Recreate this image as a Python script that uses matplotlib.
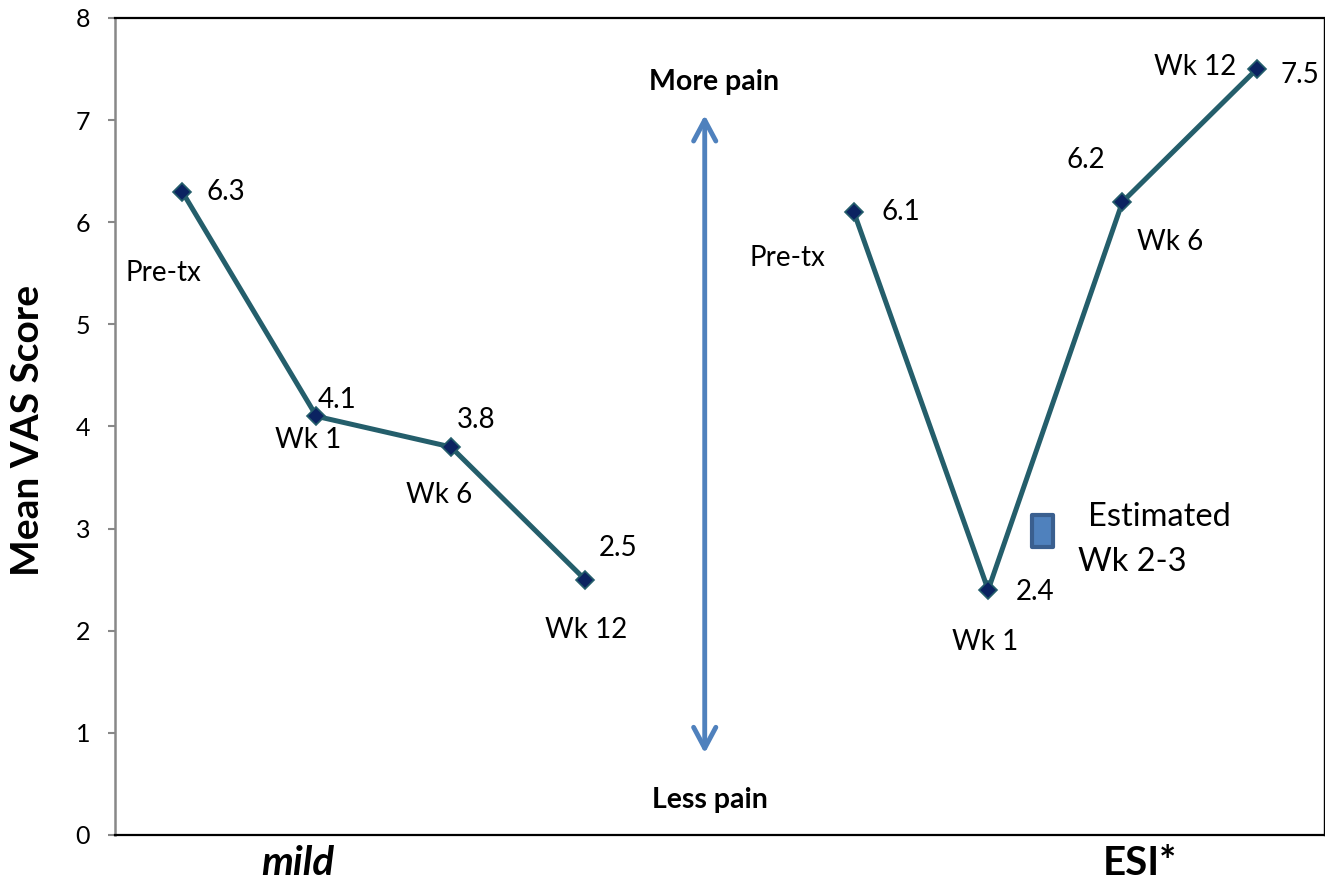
import numpy as np
import matplotlib
matplotlib.use("Agg")
import matplotlib.pyplot as plt
from matplotlib.patches import Rectangle

plt.rcParams['font.family'] = ['Lato', 'DejaVu Sans']

# data
time_labels = ['Pre-tx', 'Wk 1', 'Wk 6', 'Wk 12']
mild_x = [1, 2, 3, 4]
mild_vals = [6.3, 4.1, 3.8, 2.5]
esi_x = [6, 7, 8, 9]
esi_vals = [6.1, 2.4, 6.2, 7.5]
groups = ['mild', 'ESI*']

# label offsets in pixels (value label, time label)
mild_val_off = [(44, 0), (21, 16), (25, 27), (33, 32)]
mild_lab_off = [(-19, -81), (-8, -24), (-12, -48), (1, -50)]
esi_val_off = [(47, 0), (47, -2), (-37, 42), (43, -6)]
esi_lab_off = [(-66, -46), (-3, -52), (48, -40), (-62, 2)]

line_col = '#245E6B'
mark_col = '#0B2361'

fig = plt.figure(figsize=(13.25, 8.84), dpi=100)
ax = fig.add_axes([115/1325, 49/884, 1209/1325, 817/884])

for xs, vs, voff, loff in [(mild_x, mild_vals, mild_val_off, mild_lab_off),
                           (esi_x, esi_vals, esi_val_off, esi_lab_off)]:
    ax.plot(xs, vs, color=line_col, lw=3.6, marker='D', ms=9.5,
            mfc=mark_col, mec=line_col, mew=1.2, solid_capstyle='butt')
    for x, v, vo, lo, t in zip(xs, vs, voff, loff, time_labels):
        ax.annotate(f'{v:.1f}', (x, v), xytext=vo, textcoords='offset pixels',
                    ha='center', va='center', fontsize=20)
        ax.annotate(t, (x, v), xytext=lo, textcoords='offset pixels',
                    ha='center', va='center', fontsize=20)

# pain arrow
ax.annotate('', xy=(4.89, 7.05), xytext=(4.89, 0.8),
            arrowprops=dict(arrowstyle='<->,head_length=0.75,head_width=0.4',
                            color='#4F81BD', lw=3.5, shrinkA=0, shrinkB=0,
                            mutation_scale=20))
ax.text(4.96, 7.37, 'More pain', ha='center', va='center',
        fontsize=20.5, fontweight='bold')
ax.text(4.93, 0.34, 'Less pain', ha='center', va='center',
        fontsize=20.5, fontweight='bold')

# estimated wk 2-3 marker
ax.add_patch(Rectangle((7.33, 2.82), 0.15, 0.31, facecolor='#4F81BD',
                       edgecolor='#3A5F8F', lw=3, joinstyle='round'))
ax.text(7.74, 3.11, 'Estimated', ha='left', va='center', fontsize=23.5)
ax.text(7.67, 2.67, 'Wk 2-3', ha='left', va='center', fontsize=23.5)

ax.set_xlim(0.5, 9.5)
ax.set_ylim(0, 8)
ax.set_yticks(range(0, 9))
ax.tick_params(axis='y', length=5, width=1.5, color='#888888',
               labelsize=18, pad=13)

ax.set_xticks([1.86, 8.13])
ax.set_xticklabels(groups, fontsize=29, fontweight='bold')
ax.get_xticklabels()[0].set_fontstyle('italic')
ax.tick_params(axis='x', length=0, pad=7)

ax.spines['left'].set_color('#888888')
ax.spines['left'].set_linewidth(1.8)
ax.spines['bottom'].set_linewidth(1.6)
ax.spines['top'].set_linewidth(1.6)
ax.spines['right'].set_linewidth(1.0)

fig.text(28/1325, 1 - 430/884, 'Mean VAS Score', rotation=90,
         ha='center', va='center', fontsize=28, fontweight='bold')

fig.savefig('out.png', dpi=100)
